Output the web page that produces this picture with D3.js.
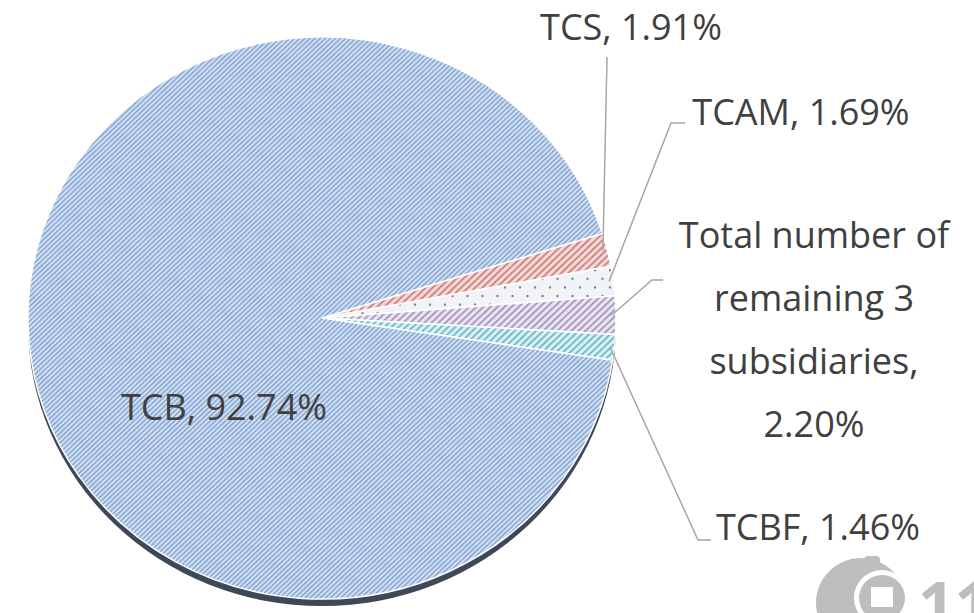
<!DOCTYPE html>
<html>
<head>
<meta charset="utf-8">
<script src="https://cdn.jsdelivr.net/npm/d3@7"></script>
<style>
  body { margin: 0; background: #fff; }
  svg text { font-family: "Open Sans", "Noto Sans", sans-serif; fill: #404040; }
</style>
</head>
<body>
<div id="chart"></div>
<script>
// slice data, clockwise from the top of the small wedge group
const names = ["TCS", "TCAM", "Total number of remaining 3 subsidiaries", "TCBF", "TCB"];
const values = [1.91, 1.69, 2.20, 1.46, 92.74];
const labelLines = [
    ["TCS, 1.91%"],
    ["TCAM, 1.69%"],
    ["Total number of", "remaining 3", "subsidiaries,", "2.20%"],
    ["TCBF, 1.46%"],
    ["TCB, 92.74%"]
];
const patternIds = ["p-red", "p-dots", "p-purple", "p-teal", "p-blue"];

const width = 974, height = 613;
const cx = 322, cy = 318, r = 294, squash = 0.956;

const svg = d3.select("#chart").append("svg")
    .attr("width", width)
    .attr("height", height);

// hatch patterns like the Excel fills
let defs = svg.append("defs");

function hatch(id, bg, fg, size, lw) {
    let p = defs.append("pattern")
        .attr("id", id)
        .attr("patternUnits", "userSpaceOnUse")
        .attr("width", size)
        .attr("height", size)
        .attr("patternTransform", "rotate(45)");
    p.append("rect").attr("width", size).attr("height", size).attr("fill", bg);
    p.append("line")
        .attr("x1", lw / 2).attr("x2", lw / 2)
        .attr("y1", 0).attr("y2", size)
        .attr("stroke", fg)
        .attr("stroke-width", lw);
}
hatch("p-blue", "#d0e0f3", "#7b9acb", 3.6, 1.3);
hatch("p-red", "#f4d9d7", "#c97a76", 5, 1.7);
hatch("p-purple", "#e9e4f0", "#a08fb9", 5, 1.7);
hatch("p-teal", "#d8f0f4", "#66b4c3", 5, 1.7);

let dots = defs.append("pattern")
    .attr("id", "p-dots")
    .attr("patternUnits", "userSpaceOnUse")
    .attr("width", 15)
    .attr("height", 18);
dots.append("rect").attr("width", 15).attr("height", 18).attr("fill", "#f1f3f6");
dots.append("circle").attr("cx", 3).attr("cy", 4).attr("r", 1.2).attr("fill", "#6e7e98");
dots.append("circle").attr("cx", 10.5).attr("cy", 13).attr("r", 1.2).attr("fill", "#6e7e98");

// start angle so the small wedges sit at the right side
const start = 72.5 * Math.PI / 180;

let pie = d3.pie()
    .sort(null)
    .value(d => d)
    .startAngle(start)
    .endAngle(start + 2 * Math.PI);

let arcs = pie(values);

let arc = d3.arc().innerRadius(0).outerRadius(r);
let fullArc = d3.arc().innerRadius(0).outerRadius(r).startAngle(0).endAngle(2 * Math.PI);

// dark edge under the pie (3d depth)
svg.append("path")
    .attr("d", fullArc())
    .attr("transform", `translate(${cx}, ${cy + 7}) scale(1, ${squash})`)
    .attr("fill", "#3e4858");

let g = svg.append("g")
    .attr("transform", `translate(${cx}, ${cy}) scale(1, ${squash})`);

g.selectAll(".slice")
    .data(arcs)
    .enter().append("path")
    .attr("class", "slice")
    .attr("d", arc)
    .attr("fill", (d, i) => `url(#${patternIds[i]})`)
    .attr("stroke", "#fff")
    .attr("stroke-width", 1.5)
    .attr("vector-effect", "non-scaling-stroke");

// label layout: anchor point, elbow and end of leader line
const labelPos = [
    {x: 631, y: 40, elbow: [607, 57], end: null},
    {x: 801, y: 125, elbow: [671, 123], end: [685, 123]},
    {x: 814, y: 248, elbow: [652, 280], end: [663, 280]},
    {x: 818, y: 540, elbow: [698, 540], end: [711, 540]},
    {x: 224, y: 420, elbow: null, end: null}
];

function edgePoint(d, k) {
    let a = (d.startAngle + d.endAngle) / 2;
    return [cx + Math.sin(a) * r * k, cy - Math.cos(a) * r * k * squash];
}

arcs.forEach(function(d, i) {
    let lp = labelPos[i];
    if (lp.elbow) {
        let p0 = edgePoint(d, 0.985);
        let pts = [p0, lp.elbow];
        if (lp.end) pts.push(lp.end);
        svg.append("path")
            .attr("d", d3.line()(pts))
            .attr("fill", "none")
            .attr("stroke", "#a6a6a6")
            .attr("stroke-width", 1.5);
    }
    let t = svg.append("text")
        .attr("text-anchor", "middle")
        .style("font-size", "36px");
    labelLines[i].forEach(function(line, j) {
        t.append("tspan")
            .attr("x", lp.x)
            .attr("y", lp.y + j * 63)
            .text(line);
    });
});

// company logo in the corner
let logo = svg.append("g").attr("fill", "#bdbdbd");
logo.append("circle").attr("cx", 861).attr("cy", 603).attr("r", 45);
logo.append("rect").attr("x", 864).attr("y", 556).attr("width", 16).attr("height", 22).attr("rx", 4);
logo.append("circle").attr("cx", 882).attr("cy", 598).attr("r", 28).attr("fill", "#fff");
logo.append("circle").attr("cx", 882).attr("cy", 598).attr("r", 23);
logo.append("rect").attr("x", 871).attr("y", 587).attr("width", 22).attr("height", 20).attr("fill", "#fff");
logo.append("text")
    .attr("x", 918)
    .attr("y", 628)
    .style("font-size", "64px")
    .style("font-weight", "bold")
    .style("fill", "#bdbdbd")
    .text("11");
</script>
</body>
</html>
